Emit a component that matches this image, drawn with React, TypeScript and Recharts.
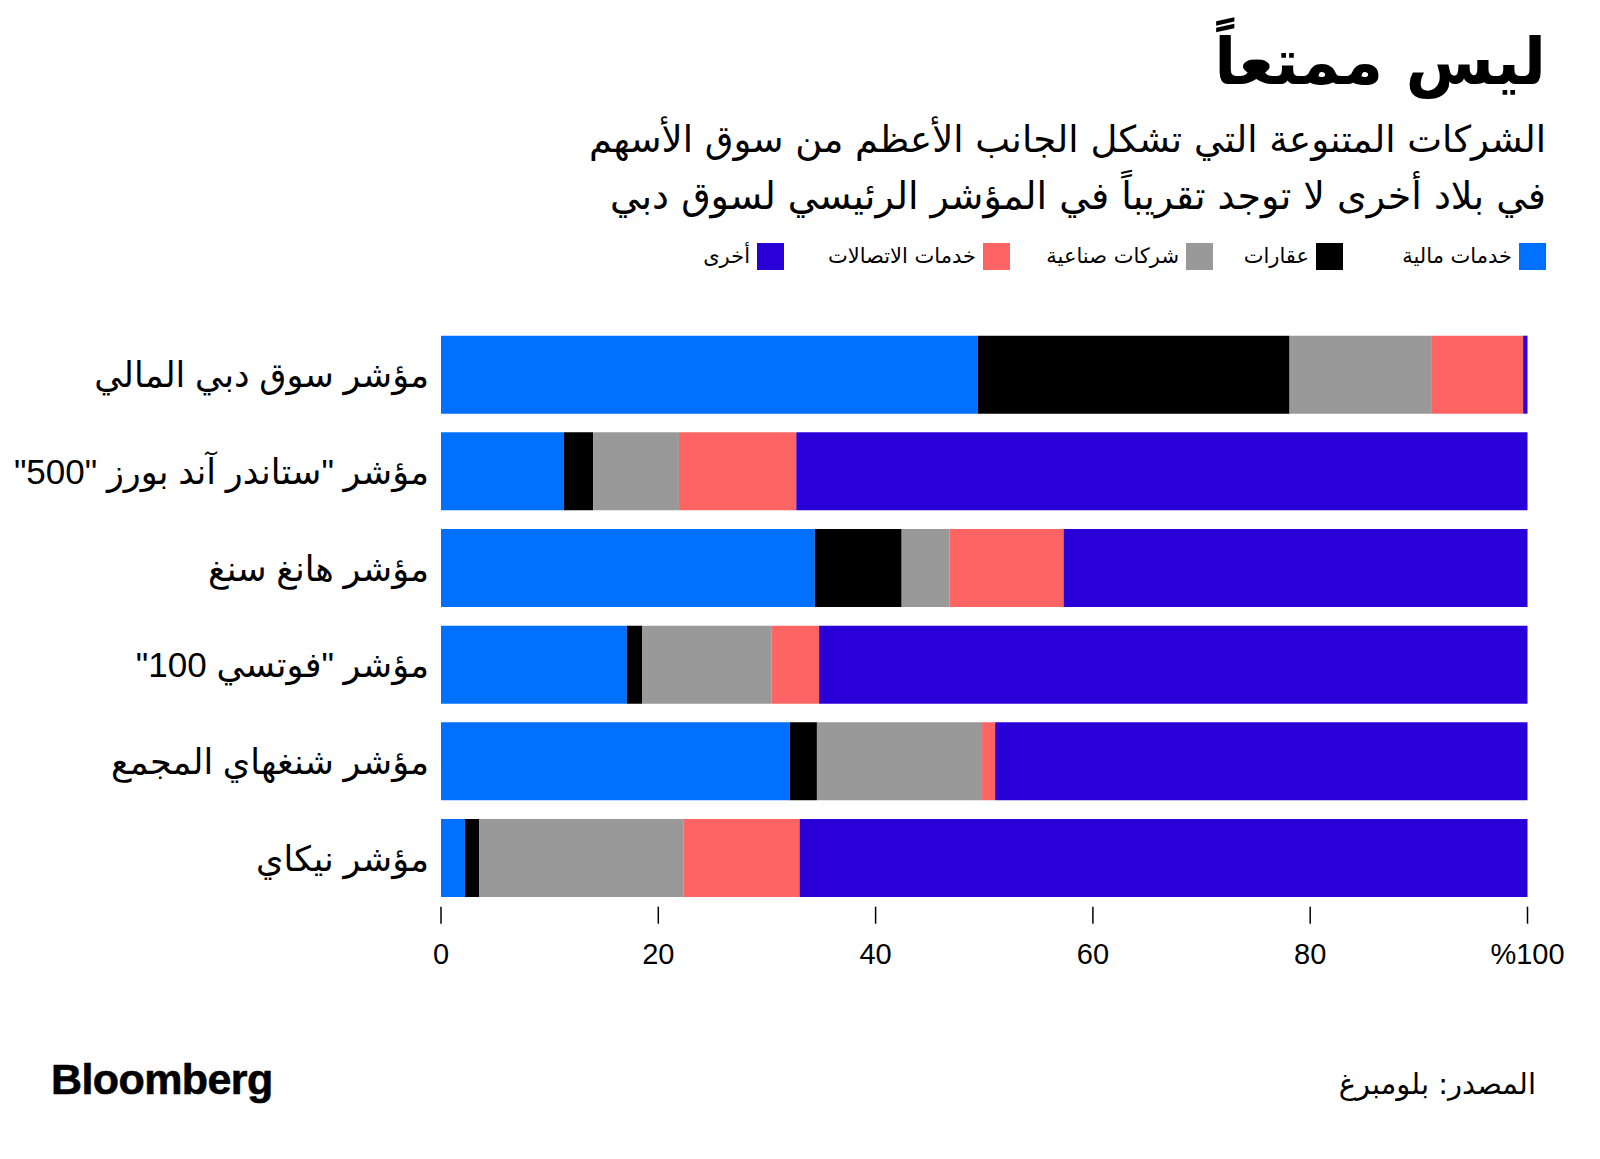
import React from "react"
import { Bar, BarChart, XAxis, YAxis } from "recharts"

// index names, top to bottom
const categories = [
  "مؤشر سوق دبي المالي",
  'مؤشر "ستاندر آند بورز "500"',
  "مؤشر هانغ سنغ",
  'مؤشر "فوتسي 100"',
  "مؤشر شنغهاي المجمع",
  "مؤشر نيكاي",
]

// sector shares, % of index
const financial = [49.4, 11.3, 34.4, 17.1, 32.1, 2.2]
const realEstate = [28.7, 2.7, 8.0, 1.4, 2.5, 1.3]
const industrial = [13.1, 7.9, 4.4, 11.9, 15.2, 18.8]
const telecom = [8.4, 10.8, 10.5, 4.4, 1.2, 10.7]
const other = [0.4, 67.3, 42.7, 65.2, 49.0, 67.0]

const seriesNames = ["خدمات مالية", "عقارات", "شركات صناعية", "خدمات الاتصالات", "أخرى"]
const seriesKeys = ["financial", "realEstate", "industrial", "telecom", "other"]
const colors = ["#0070FF", "#000000", "#999999", "#FF6464", "#2A00D8"]

const xTicks = [0, 20, 40, 60, 80, 100]

const data = categories.map((name, i) => ({
  name,
  financial: financial[i],
  realEstate: realEstate[i],
  industrial: industrial[i],
  telecom: telecom[i],
  other: other[i],
}))

const arabicFont = '"DejaVu Sans", "Noto Sans", sans-serif'
const latinFont = '"Liberation Sans", Arial, sans-serif'
const mixedFont = '"Liberation Sans", "DejaVu Sans", sans-serif'

// right edge of each legend swatch (legend sits in html above the chart)
const legendRight = [54, 257, 387, 590, 816]

const CategoryTick = (props: any) => {
  const { x, y, payload } = props
  return (
    <text
      x={x}
      y={y}
      dy="0.35em"
      textAnchor="start"
      direction="rtl"
      style={{ direction: "rtl" }}
      fontSize={35}
      fontFamily={mixedFont}
      fill="#000"
    >
      {payload.value}
    </text>
  )
}

const Legend = () => (
  <>
    {seriesNames.map((n, i) => (
      <div
        key={n}
        style={{
          position: "absolute",
          right: legendRight[i],
          top: 243,
          display: "flex",
          direction: "rtl",
          alignItems: "center",
          gap: 7,
          whiteSpace: "nowrap",
        }}
      >
        <span style={{ width: 27, height: 27, background: colors[i], display: "inline-block" }} />
        <span style={{ fontSize: 21, fontFamily: arabicFont, lineHeight: "27px" }}>{n}</span>
      </div>
    ))}
  </>
)

export default function App() {
  return (
    <div
      style={{
        position: "absolute",
        left: 0,
        top: 0,
        width: 1600,
        height: 1159,
        background: "#fff",
        overflow: "hidden",
      }}
    >
      <div
        style={{
          position: "absolute",
          right: 54,
          top: 30,
          direction: "rtl",
          fontFamily: arabicFont,
          fontWeight: 700,
          fontSize: 64,
          lineHeight: 1,
          whiteSpace: "nowrap",
        }}
      >
        ليس ممتعاً
      </div>
      <div
        style={{
          position: "absolute",
          right: 54,
          top: 112,
          direction: "rtl",
          fontFamily: arabicFont,
          fontSize: 37,
          lineHeight: "56px",
          whiteSpace: "nowrap",
        }}
      >
        <div>الشركات المتنوعة التي تشكل الجانب الأعظم من سوق الأسهم</div>
        <div style={{ fontSize: 38 }}>في بلاد أخرى لا توجد تقريباً في المؤشر الرئيسي لسوق دبي</div>
      </div>
      <Legend />

      <div style={{ position: "absolute", left: 0, top: 0 }}>
        <BarChart
          width={1600}
          height={1159}
          layout="vertical"
          data={data}
          margin={{ top: 326.7, right: 72.5, bottom: 192.3, left: 21 }}
          barSize={78}
        >
          <XAxis
            type="number"
            domain={[0, 100]}
            ticks={xTicks}
            height={60}
            axisLine={false}
            stroke="#000"
            tickLine={{ stroke: "#000", strokeWidth: 1.5 }}
            tickSize={17}
            tickMargin={20}
            tick={{ fill: "#000", fontSize: 29, fontFamily: latinFont }}
            tickFormatter={(v: number) => (v === 100 ? "%100" : String(v))}
          />
          <YAxis
            type="category"
            dataKey="name"
            width={420}
            axisLine={false}
            tickLine={false}
            tickSize={0}
            tickMargin={12}
            tick={<CategoryTick />}
          />
          {seriesKeys.map((k, i) => (
            <Bar key={k} dataKey={k} name={seriesNames[i]} stackId="a" fill={colors[i]} isAnimationActive={false} />
          ))}
        </BarChart>
      </div>

      <div
        style={{
          position: "absolute",
          left: 51,
          top: 1058,
          fontFamily: latinFont,
          fontWeight: 700,
          fontSize: 43,
          letterSpacing: -0.6,
          lineHeight: 1,
          WebkitTextStroke: "0.6px #000",
        }}
      >
        Bloomberg
      </div>
      <div
        style={{
          position: "absolute",
          right: 64,
          top: 1070,
          direction: "rtl",
          fontFamily: arabicFont,
          fontSize: 29,
          lineHeight: 1,
          whiteSpace: "nowrap",
        }}
      >
        المصدر: بلومبرغ
      </div>
    </div>
  )
}
